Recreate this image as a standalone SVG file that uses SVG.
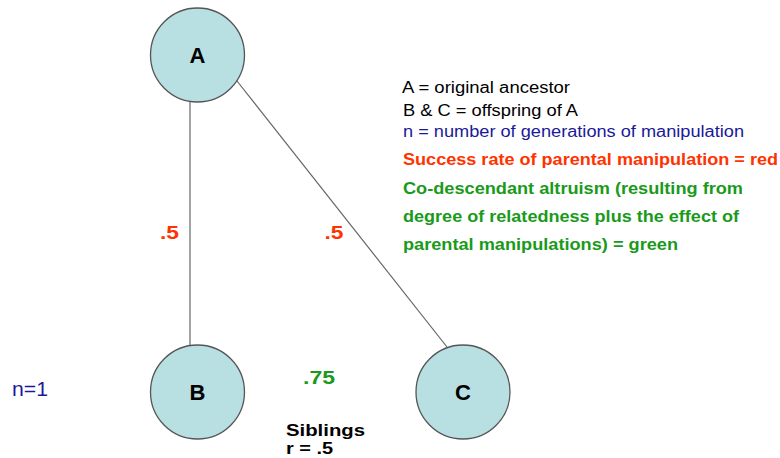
<svg xmlns="http://www.w3.org/2000/svg" width="780" height="458" viewBox="0 0 780 458">
<style>
text{font-family:"Liberation Sans",Arial,sans-serif}
.node{fill:#b8dfe1;stroke:#555;stroke-width:1.3}
.lbl{font-size:22px;font-weight:bold;fill:#000;text-anchor:middle}
.edge{stroke:#666;stroke-width:1.2;fill:none}
.leg{font-size:16px}
.b{font-weight:bold}
.big{font-size:17px}
.red{fill:#ff3300}
.green{fill:#1a9a1a}
.navy{fill:#1a1a99}
</style>
<rect width="780" height="458" fill="#fff"/>
<g id="connectors">
<line class="edge" x1="190" y1="101" x2="190" y2="345"/>
<line class="edge" x1="237" y1="81" x2="447" y2="347"/>
</g>
<g id="A"><circle class="node" cx="197.5" cy="55" r="47"/><text class="lbl" x="197.5" y="63">A</text></g>
<g id="B"><circle class="node" cx="197.5" cy="392" r="47"/><text class="lbl" x="197.5" y="400">B</text></g>
<g id="C"><circle class="node" cx="463" cy="392" r="47"/><text class="lbl" x="463" y="400">C</text></g>
<g id="edge-labels">
<text class="b red" x="160" y="239" font-size="19" textLength="19" lengthAdjust="spacingAndGlyphs">.5</text>
<text class="b red" x="324.5" y="239" font-size="19" textLength="19" lengthAdjust="spacingAndGlyphs">.5</text>
<text class="b green" x="303" y="384" font-size="19" textLength="32" lengthAdjust="spacingAndGlyphs">.75</text>
</g>
<text class="navy" x="12" y="396" font-size="20" textLength="36" lengthAdjust="spacingAndGlyphs">n=1</text>
<text class="b" x="286" y="436" font-size="16" textLength="79" lengthAdjust="spacingAndGlyphs">Siblings</text>
<text class="b" x="286" y="454" font-size="16" textLength="47" lengthAdjust="spacingAndGlyphs">r = .5</text>
<g id="legend" class="leg">
<text x="402" y="93" textLength="168" lengthAdjust="spacingAndGlyphs">A = original ancestor</text>
<text x="403" y="116" textLength="175" lengthAdjust="spacingAndGlyphs">B &amp; C = offspring of A</text>
<text class="navy" x="403" y="137" textLength="341" lengthAdjust="spacingAndGlyphs">n = number of generations of manipulation</text>
<text class="b big red" x="403" y="165" textLength="375" lengthAdjust="spacingAndGlyphs">Success rate of parental manipulation = red</text>
<text class="b big green" x="403" y="194" textLength="340" lengthAdjust="spacingAndGlyphs">Co-descendant altruism (resulting from</text>
<text class="b big green" x="403" y="222" textLength="336" lengthAdjust="spacingAndGlyphs">degree of relatedness plus the effect of</text>
<text class="b big green" x="403" y="250" textLength="275" lengthAdjust="spacingAndGlyphs">parental manipulations) = green</text>
</g>
</svg>
